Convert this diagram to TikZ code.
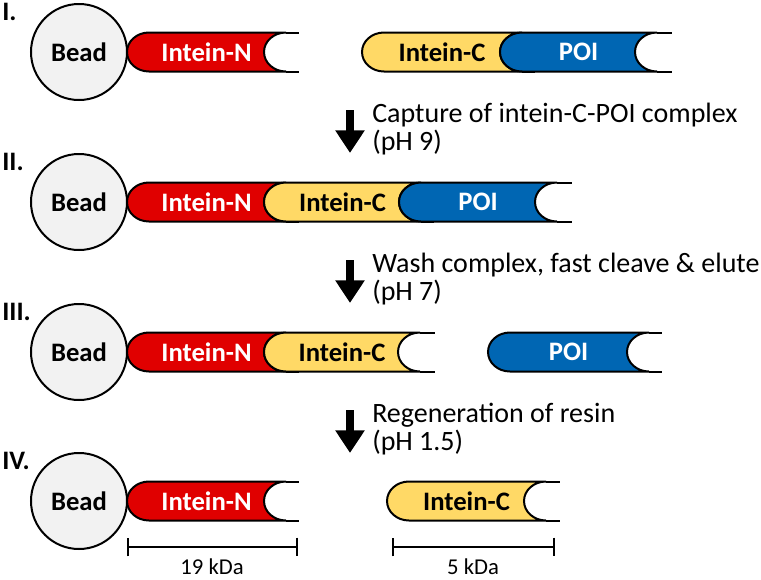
\documentclass[tikz,border=0pt]{standalone}
\usepackage{fontspec}
\setmainfont{Carlito}
\usetikzlibrary{arrows.meta}

\definecolor{ntermred}{HTML}{E00000}
\definecolor{ctermyellow}{HTML}{FFD966}
\definecolor{poiblue}{HTML}{0066B3}
\definecolor{beadgray}{HTML}{F2F2F2}

\tikzset{
  outline/.style={draw=black, line width=1.5pt},
  bead/.style={circle, outline, fill=beadgray, minimum size=72pt, inner sep=0pt,
               font=\fontsize{20}{23}\selectfont\bfseries},
  tag/.style={inner sep=0pt, font=\fontsize{20}{23}\selectfont\bfseries},
  rownum/.style={anchor=west, inner sep=0pt, font=\fontsize{20}{23}\selectfont\bfseries},
  steptext/.style={anchor=base west, inner sep=0pt, font=\fontsize{21}{25}\selectfont},
  bigarrow/.style={line width=6pt, -{Triangle[width=21pt, length=17pt]}},
  scalebar/.style={line width=1.5pt, {Bar[width=14pt]}-{Bar[width=14pt]}},
  kda/.style={anchor=base, inner sep=0pt, font=\fontsize{17}{19}\selectfont},
}

% #1 left end, #2 notch, #3 right end, #4 row, #5 fill, #6 text colour, #7 text, #8 name
\newcommand\pill[8]{
  \filldraw[outline, fill=#5] (#1+22,#4+19.5) -- (#2+22,#4+19.5)
    arc[start angle=90, end angle=270, x radius=22, y radius=19.5]
    -- (#1+22,#4-19.5)
    arc[start angle=270, end angle=90, x radius=22, y radius=19.5] -- cycle;
  \draw[outline] (#2+22,#4+19.5) -- (#3,#4+19.5) (#2+22,#4-19.5) -- (#3,#4-19.5);
  \node[tag, text=#6] (#8) at ({(#1+#2+22)/2},#4) {#7};
}

\begin{document}
\begin{tikzpicture}[x=0.75pt, y=0.75pt]
  \fill[white] (0,0) rectangle (761,-579);
  \useasboundingbox (0,0) rectangle (761,-579);

  % I. free intein-C-POI
  \node[rownum] (num1) at (2,-12) {I.};
  \pill{127}{264}{299}{-52}{ntermred}{white}{Intein-N}{n1}
  \pill{362}{500}{535}{-52}{ctermyellow}{black}{Intein-C}{c1}
  \pill{500}{635}{672}{-52}{poiblue}{white}{POI}{poi1}
  \node[bead] (bead1) at (79,-52) {Bead};

  % II. complex on the bead
  \node[rownum] (num2) at (2,-162) {II.};
  \pill{127}{264}{299}{-202}{ntermred}{white}{Intein-N}{n2}
  \pill{264}{399}{434}{-202}{ctermyellow}{black}{Intein-C}{c2}
  \pill{399}{535}{572}{-202}{poiblue}{white}{POI}{poi2}
  \node[bead] (bead2) at (79,-202) {Bead};

  % III. cleaved
  \node[rownum] (num3) at (2,-312) {III.};
  \pill{127}{264}{299}{-352}{ntermred}{white}{Intein-N}{n3}
  \pill{264}{398}{435}{-352}{ctermyellow}{black}{Intein-C}{c3}
  \pill{488}{627}{662}{-352}{poiblue}{white}{POI}{poi3}
  \node[bead] (bead3) at (79,-352) {Bead};

  % IV. regenerated
  \node[rownum] (num4) at (2,-461) {IV.};
  \pill{127}{264}{299}{-501}{ntermred}{white}{Intein-N}{n4}
  \pill{387}{524}{560}{-501}{ctermyellow}{black}{Intein-C}{c4}
  \node[bead] (bead4) at (79,-501) {Bead};

  % steps
  \foreach \k/\first/\second in {0/Capture of intein-C-POI complex/(pH 9),
      1/{Wash complex, fast cleave \& elute}/(pH 7), 2/Regeneration of resin/(pH 1.5)} {
    \coordinate (top\k) at (350,-110-150*\k);
    \coordinate (tip\k) at (350,-153-150*\k);
    \draw[bigarrow] (top\k) -- (tip\k);
    \node[steptext] (stepa\k) at (372,-122-150*\k) {\first};
    \node[steptext] (stepb\k) at (372,-150-150*\k) {\second};
  }

  % sizes
  \coordinate (barl1) at (127,-547);
  \coordinate (barr1) at (298,-547);
  \coordinate (barl2) at (392,-547);
  \coordinate (barr2) at (555,-547);
  \draw[scalebar] (barl1) -- (barr1);
  \draw[scalebar] (barl2) -- (barr2);
  \node[kda] (size1) at (212,-574) {19 kDa};
  \node[kda] (size2) at (473,-574) {5 kDa};
\end{tikzpicture}
\end{document}
